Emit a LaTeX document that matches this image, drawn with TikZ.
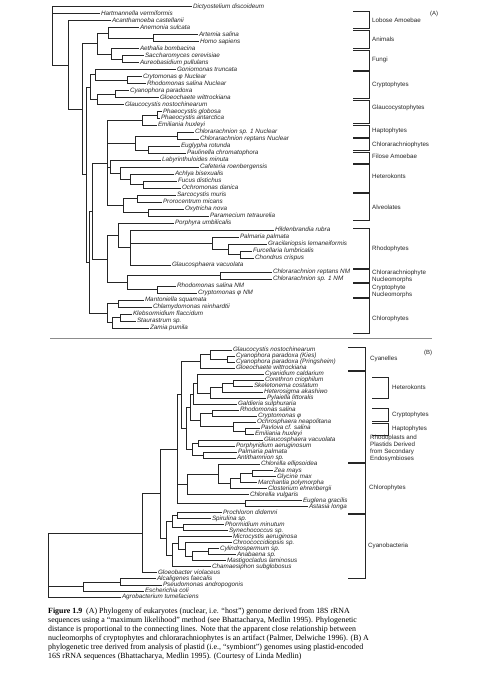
\documentclass[tikz,border=0pt]{standalone}
\usepackage{fontspec}
\setmainfont{Liberation Serif}
\newfontfamily\treefont{Liberation Sans}
\usepackage{tikz}
\definecolor{inkgray}{HTML}{262626}
\definecolor{rulegray}{HTML}{8C8C8C}
\tikzset{
  taxon/.style={font=\treefont\fontsize{6.3}{7}\selectfont\itshape,anchor=west,inner sep=0.8pt,
    text height=4.4pt,text depth=1.2pt,text=inkgray},
  branch/.style={draw=inkgray,line width=0.55pt},
  bracket/.style={draw=inkgray,line width=0.6pt},
  grouplabel/.style={font=\treefont\fontsize{6.2}{7}\selectfont,anchor=west,align=left,inner sep=0pt,text=inkgray},
  panellabel/.style={font=\treefont\fontsize{6}{7}\selectfont,inner sep=0pt,text=inkgray},
  figcaption/.style={font=\fontsize{7.9}{9}\selectfont,anchor=north west,align=left,inner sep=0pt}
}

\begin{document}
\begin{tikzpicture}[x=1pt,y=-1pt]
  \fill[white] (0,0) rectangle (479,675);
  \useasboundingbox (0,0) rectangle (479,675);

  \begin{scope}[y=-6.98pt,shift={(0pt,-6.7pt)}]
    \node[taxon] (dicty) at (192,0) {Dictyostelium discoideum};
    \node[taxon] (hartm) at (100,1) {Hartmannella vermiformis};
    \node[taxon] (acanth) at (111,2) {Acanthamoeba castellanii};
    \node[taxon] (anem) at (139,3) {Anemonia sulcata};
    \node[taxon] (artem) at (198,4) {Artemia salina};
    \node[taxon] (homo) at (199,5) {Homo sapiens};
    \node[taxon] (aethal) at (139,6) {Aethalia bombacina};
    \node[taxon] (sacch) at (144,7) {Saccharomyces cerevisiae};
    \node[taxon] (aureo) at (139,8) {Aureobasidium pullulans};
    \node[taxon] (gonio) at (176,9) {Goniomonas truncata};
    \node[taxon] (crytnuc) at (142,10) {Crytomonas φ Nuclear};
    \node[taxon] (rhodonuc) at (146,11) {Rhodomonas salina Nuclear};
    \node[taxon] (cyano) at (129,12) {Cyanophora paradoxa};
    \node[taxon] (gloeo) at (159,13) {Gloeochaete wittrockiana};
    \node[taxon] (glauco) at (124,14) {Glaucocystis nostochinearum};
    \node[taxon] (phaeog) at (162,15) {Phaeocystis globosa};
    \node[taxon] (phaeoa) at (160,16) {Phaeocystis antarctica};
    \node[taxon] (emil) at (157,17) {Emiliania huxleyi};
    \node[taxon] (chlsnuc) at (194,18) {Chlorarachnion sp. 1 Nuclear};
    \node[taxon] (chlrnuc) at (199,19) {Chlorarachnion reptans Nuclear};
    \node[taxon] (eugly) at (180,20) {Euglypha rotunda};
    \node[taxon] (pauli) at (186,21) {Paulinella chromatophora};
    \node[taxon] (laby) at (161,22) {Labyrinthuloides minuta};
    \node[taxon] (cafet) at (199,23) {Cafeteria roenbergensis};
    \node[taxon] (achly) at (174,24) {Achlya bisexualis};
    \node[taxon] (fucus) at (177,25) {Fucus distichus};
    \node[taxon] (ochro) at (181,26) {Ochromonas danica};
    \node[taxon] (sarco) at (176,27) {Sarcocystis muris};
    \node[taxon] (proro) at (162,28) {Prorocentrum micans};
    \node[taxon] (oxytr) at (184,29) {Oxytricha nova};
    \node[taxon] (param) at (209,30) {Paramecium tetraurelia};
    \node[taxon] (porph) at (174,31) {Porphyra umbilicalis};
    \node[taxon] (hilde) at (274,32) {Hildenbrandia rubra};
    \node[taxon] (palma) at (239,33) {Palmaria palmata};
    \node[taxon] (graci) at (267,34) {Gracilariopsis lemaneiformis};
    \node[taxon] (furce) at (252,35) {Furcellaria lumbricalis};
    \node[taxon] (chond) at (254,36) {Chondrus crispus};
    \node[taxon] (glsph) at (171,37) {Glaucosphaera vacuolata};
    \node[taxon] (chlrnm) at (272,38) {Chlorarachnion reptans NM};
    \node[taxon] (chlsnm) at (272,39) {Chlorarachnion sp. 1 NM};
    \node[taxon] (rhodonm) at (176,40) {Rhodomonas salina NM};
    \node[taxon] (cryptnm) at (197,41) {Cryptomonas φ NM};
    \node[taxon] (manto) at (144,42) {Mantoniella squamata};
    \node[taxon] (chlam) at (152,43) {Chlamydomonas reinhardtii};
    \node[taxon] (klebs) at (132,44) {Klebsormidium flaccidum};
    \node[taxon] (staur) at (136,45) {Staurastrum sp.};
    \node[taxon] (zamia) at (149,46) {Zamia pumila};

    \coordinate (a0) at (52,4.16);
    \coordinate (a1) at (68,8.32);
    \coordinate (a2) at (82,14.64);
    \coordinate (opis) at (97,5.25);
    \coordinate (meta) at (108,3.75);
    \coordinate (arho) at (153,4.5);
    \coordinate (fung) at (111,6.75);
    \coordinate (saau) at (122,7.5);
    \coordinate (a3) at (86,24.03);
    \coordinate (crgl) at (90,11.5);
    \coordinate (cryp) at (95,9.75);
    \coordinate (crrh) at (127,10.5);
    \coordinate (glau) at (97,13.25);
    \coordinate (cygl) at (115,12.5);
    \coordinate (a4) at (89,36.56);
    \coordinate (a5) at (92,29.25);
    \coordinate (mid) at (107,22.375);
    \coordinate (hapt) at (142,16.25);
    \coordinate (phae) at (157,15.5);
    \coordinate (cerc) at (135,19.5);
    \coordinate (chlo) at (177,18.5);
    \coordinate (filo) at (148,20.5);
    \coordinate (hete) at (110,22.94);
    \coordinate (caac) at (120,23.875);
    \coordinate (acfo) at (130,24.75);
    \coordinate (fuoc) at (143,25.5);
    \coordinate (alve) at (123,28.5);
    \coordinate (sapr) at (137,27.5);
    \coordinate (oxpa) at (148,29.5);
    \coordinate (rhnm) at (107,36.125);
    \coordinate (rhod) at (118,32.75);
    \coordinate (rhgl) at (130,34.5);
    \coordinate (flor) at (212,33.875);
    \coordinate (grfc) at (228,34.75);
    \coordinate (fuch) at (240,35.5);
    \coordinate (nucl) at (127,39.5);
    \coordinate (chnm) at (220,38.5);
    \coordinate (crnm) at (157,40.5);
    \coordinate (gree) at (107,43.875);
    \coordinate (mach) at (118,42.5);
    \coordinate (ksza) at (112,45.25);
    \coordinate (kest) at (120,44.5);

    \draw[branch] (a0) |- (dicty.west) (a0) |- (hartm.west) (a0) |- (a1);
    \draw[branch] (a1) |- (acanth.west) (a1) |- (a2);
    \draw[branch] (a2) |- (opis) (a2) |- (a3);
    \draw[branch] (opis) |- (meta) (opis) |- (fung);
    \draw[branch] (meta) |- (anem.west) (meta) |- (arho);
    \draw[branch] (arho) |- (artem.west) (arho) |- (homo.west);
    \draw[branch] (fung) |- (aethal.west) (fung) |- (saau);
    \draw[branch] (saau) |- (sacch.west) (saau) |- (aureo.west);
    \draw[branch] (a3) |- (crgl) (a3) |- (a4);
    \draw[branch] (crgl) |- (cryp) (crgl) |- (glau);
    \draw[branch] (cryp) |- (gonio.west) (cryp) |- (crrh);
    \draw[branch] (crrh) |- (crytnuc.west) (crrh) |- (rhodonuc.west);
    \draw[branch] (glau) |- (cygl) (glau) |- (glauco.west);
    \draw[branch] (cygl) |- (cyano.west) (cygl) |- (gloeo.west);
    \draw[branch] (a4) |- (a5) (a4) |- (gree);
    \draw[branch] (a5) |- (mid) (a5) |- (rhnm);
    \draw[branch] (mid) |- (hapt) (mid) |- (cerc) (mid) |- (hete) (mid) |- (alve);
    \draw[branch] (hapt) |- (phae) (hapt) |- (emil.west);
    \draw[branch] (phae) |- (phaeog.west) (phae) |- (phaeoa.west);
    \draw[branch] (cerc) |- (chlo) (cerc) |- (filo);
    \draw[branch] (chlo) |- (chlsnuc.west) (chlo) |- (chlrnuc.west);
    \draw[branch] (filo) |- (eugly.west) (filo) |- (pauli.west);
    \draw[branch] (hete) |- (laby.west) (hete) |- (caac);
    \draw[branch] (caac) |- (cafet.west) (caac) |- (acfo);
    \draw[branch] (acfo) |- (achly.west) (acfo) |- (fuoc);
    \draw[branch] (fuoc) |- (fucus.west) (fuoc) |- (ochro.west);
    \draw[branch] (alve) |- (sapr) (alve) |- (oxpa);
    \draw[branch] (sapr) |- (sarco.west) (sapr) |- (proro.west);
    \draw[branch] (oxpa) |- (oxytr.west) (oxpa) |- (param.west);
    \draw[branch] (rhnm) |- (rhod) (rhnm) |- (nucl);
    \draw[branch] (rhod) |- (porph.west) (rhod) |- (rhgl);
    \draw[branch] (rhgl) |- (hilde.west) (rhgl) |- (flor) (rhgl) |- (glsph.west);
    \draw[branch] (flor) |- (palma.west) (flor) |- (grfc);
    \draw[branch] (grfc) |- (graci.west) (grfc) |- (fuch);
    \draw[branch] (fuch) |- (furce.west) (fuch) |- (chond.west);
    \draw[branch] (nucl) |- (chnm) (nucl) |- (crnm);
    \draw[branch] (chnm) |- (chlrnm.west) (chnm) |- (chlsnm.west);
    \draw[branch] (crnm) |- (rhodonm.west) (crnm) |- (cryptnm.west);
    \draw[branch] (gree) |- (mach) (gree) |- (ksza);
    \draw[branch] (mach) |- (manto.west) (mach) |- (chlam.west);
    \draw[branch] (ksza) |- (kest) (ksza) |- (zamia.west);
    \draw[branch] (kest) |- (klebs.west) (kest) |- (staur.west);
  \end{scope}

  \draw[bracket] (353,11.7) -| (369,28.3) -- (353,28.3);
  \draw[bracket] (353,30) -| (369,48) -- (353,48);
  \draw[bracket] (353,50) -| (369,70) -- (353,70);
  \draw[bracket] (353,71.5) -| (369,98) -- (353,98);
  \draw[bracket] (353,100) -| (369,123) -- (353,123);
  \draw[bracket] (353,125) -| (369,137) -- (353,137);
  \draw[bracket] (353,138.5) -| (369,150) -- (353,150);
  \draw[bracket] (353,152) -| (369,163) -- (353,163);
  \draw[bracket] (353,164.5) -| (369,192) -- (353,192);
  \draw[bracket] (353,193.5) -| (369,220) -- (353,220);
  \draw[bracket] (353,228) -| (369,268) -- (353,268);
  \draw[bracket] (353,269.5) -| (369,282) -- (353,282);
  \draw[bracket] (353,283.5) -| (369,297) -- (353,297);
  \draw[bracket] (353,298.5) -| (369,333) -- (353,333);
  \node[grouplabel] (lobose) at (372,20) {Lobose Amoebae};
  \node[grouplabel] (animals) at (372,39) {Animals};
  \node[grouplabel] (fungi) at (372,60) {Fungi};
  \node[grouplabel] (cryptA) at (372,85) {Cryptophytes};
  \node[grouplabel] (glaucA) at (372,108) {Glaucocystophytes};
  \node[grouplabel] (haptA) at (372,131) {Haptophytes};
  \node[grouplabel] (chlorarA) at (372,145) {Chlorarachniophytes};
  \node[grouplabel] (filose) at (372,156) {Filose Amoebae};
  \node[grouplabel] (heteroA) at (372,176) {Heterokonts};
  \node[grouplabel] (alveol) at (372,207) {Alveolates};
  \node[grouplabel] (rhodoA) at (372,249) {Rhodophytes};
  \node[grouplabel] (chlnmA) at (372,276) {Chlorarachniophyte\\Nucleomorphs};
  \node[grouplabel] (crynmA) at (372,291) {Cryptophyte\\Nucleomorphs};
  \node[grouplabel] (chloroA) at (372,319) {Chlorophytes};
  \node[panellabel] (panelA) at (434,14) {(A)};

  \draw[rulegray,line width=0.8pt] (50,338) -- (432,338);

  \begin{scope}[y=-6.02pt,shift={(0pt,-350pt)}]
    \node[taxon] (bglauc) at (232,0) {Glaucocystis nostochinearum};
    \node[taxon] (bcykies) at (235,1) {Cyanophora paradoxa (Kies)};
    \node[taxon] (bcypring) at (235,2) {Cyanophora paradoxa (Pringsheim)};
    \node[taxon] (bgloeo) at (235,3) {Gloeochaete wittrockiana};
    \node[taxon] (bcyanid) at (264,4) {Cyanidium caldarium};
    \node[taxon] (bcoreth) at (264,5) {Corethron criophilum};
    \node[taxon] (bskelet) at (253,6) {Skeletonema costatum};
    \node[taxon] (bhetero) at (263,7) {Heterosigma akashiwo};
    \node[taxon] (bpylai) at (266,8) {Pylaiella littoralis};
    \node[taxon] (bgaldi) at (237,9) {Galdieria sulphuraria};
    \node[taxon] (brhodo) at (239,10) {Rhodomonas salina};
    \node[taxon] (bcrypt) at (257,11) {Cryptomonas φ};
    \node[taxon] (bochro) at (256,12) {Ochrosphaera neapolitana};
    \node[taxon] (bpavlo) at (260,13) {Pavlova cf. salina};
    \node[taxon] (bemil) at (254,14) {Emiliania huxleyi};
    \node[taxon] (bglsph) at (263,15) {Glaucosphaera vacuolata};
    \node[taxon] (bporph) at (235,16) {Porphyridium aeruginosum};
    \node[taxon] (bpalma) at (237,17) {Palmaria palmata};
    \node[taxon] (banti) at (236,18) {Antithamnion sp.};
    \node[taxon] (bchell) at (260,19) {Chlorella ellipsoidea};
    \node[taxon] (bzea) at (273,20) {Zea mays};
    \node[taxon] (bglyc) at (276,21) {Glycine max};
    \node[taxon] (bmarch) at (257,22) {Marchantia polymorpha};
    \node[taxon] (bclost) at (267,23) {Closterium ehrenbergii};
    \node[taxon] (bchvul) at (249,24) {Chlorella vulgaris};
    \node[taxon] (beugl) at (302,25) {Euglena gracilis};
    \node[taxon] (bastas) at (308,26) {Astasia longa};
    \node[taxon] (bproch) at (222,27) {Prochloron didemni};
    \node[taxon] (bspiru) at (211,28) {Spirulina sp.};
    \node[taxon] (bphorm) at (224,29) {Phormidium minutum};
    \node[taxon] (bsynec) at (228,30) {Synechococcus sp.};
    \node[taxon] (bmicro) at (232,31) {Microcystis aeruginosa};
    \node[taxon] (bchroo) at (232,32) {Chroococcidiopsis sp.};
    \node[taxon] (bcylin) at (219,33) {Cylindrospermum sp.};
    \node[taxon] (banaba) at (236,34) {Anabaena sp.};
    \node[taxon] (bmasti) at (226,35) {Mastigocladus laminosus};
    \node[taxon] (bchama) at (211,36) {Chamaesiphon subglobosus};
    \node[taxon] (bgloeob) at (157,37) {Gloeobacter violaceus};
    \node[taxon] (balcal) at (156,38) {Alcaligenes faecalis};
    \node[taxon] (bpseud) at (162,39) {Pseudomonas andropogonis};
    \node[taxon] (bescher) at (144,40) {Escherichia coli};
    \node[taxon] (bagro) at (121,41) {Agrobacterium tumefaciens};

    \coordinate (b0) at (48,35.72);
    \coordinate (cyplas) at (142,30.44);
    \coordinate (bmain) at (160,23.87);
    \coordinate (plas) at (177,16.47);
    \coordinate (redgl) at (181,7.43);
    \coordinate (bglau) at (200,1.875);
    \coordinate (bgc) at (210,0.75);
    \coordinate (bck) at (227,1.5);
    \coordinate (redall) at (186,12.98);
    \coordinate (redsec) at (190,9.45);
    \coordinate (redh) at (193,7.28);
    \coordinate (cyhe) at (197,5.5625);
    \coordinate (bhet) at (210,7.125);
    \coordinate (bhs) at (222,6.25);
    \coordinate (bcs) at (233,5.5);
    \coordinate (crha) at (200,11.625);
    \coordinate (bcr) at (212,10.5);
    \coordinate (bha) at (233,12.75);
    \coordinate (bpe) at (245,13.5);
    \coordinate (rpgl) at (192,16.5);
    \coordinate (bgp) at (198,15.5);
    \coordinate (bpa) at (203,17.5);
    \coordinate (bgrn) at (187,22.28);
    \coordinate (bce) at (218,20.5625);
    \coordinate (bzgmc) at (230,22.125);
    \coordinate (bzgm) at (240,21.25);
    \coordinate (bzg) at (252,20.5);
    \coordinate (bea) at (245,25.5);
    \coordinate (cyanob) at (166,31.27);
    \coordinate (cyone) at (172,28.5);
    \coordinate (bps) at (177,27.5);
    \coordinate (bpsy) at (183,29.5);
    \coordinate (cytwo) at (172,34.03);
    \coordinate (bmc) at (178,32.06);
    \coordinate (bccam) at (185,33.125);
    \coordinate (bcam) at (192,34.25);
    \coordinate (bca) at (208,33.5);
    \coordinate (bape) at (83,39.25);
    \coordinate (bap) at (120,38.5);

    \draw[branch] (b0) |- (cyplas) (b0) |- (bape) (b0) |- (bagro.west);
    \draw[branch] (cyplas) |- (bmain) (cyplas) |- (bgloeob.west);
    \draw[branch] (bmain) |- (plas) (bmain) |- (cyanob);
    \draw[branch] (plas) |- (redgl) (plas) |- (bgrn) (plas) |- (bea);
    \draw[branch] (redgl) |- (bglau) (redgl) |- (redall);
    \draw[branch] (bglau) |- (bgc) (bglau) |- (bgloeo.west);
    \draw[branch] (bgc) |- (bglauc.west) (bgc) |- (bck);
    \draw[branch] (bck) |- (bcykies.west) (bck) |- (bcypring.west);
    \draw[branch] (redall) |- (redsec) (redall) |- (rpgl);
    \draw[branch] (redsec) |- (redh) (redsec) |- (crha);
    \draw[branch] (redh) |- (cyhe) (redh) |- (bgaldi.west);
    \draw[branch] (cyhe) |- (bcyanid.west) (cyhe) |- (bhet);
    \draw[branch] (bhet) |- (bhs) (bhet) |- (bpylai.west);
    \draw[branch] (bhs) |- (bcs) (bhs) |- (bhetero.west);
    \draw[branch] (bcs) |- (bcoreth.west) (bcs) |- (bskelet.west);
    \draw[branch] (crha) |- (bcr) (crha) |- (bha);
    \draw[branch] (bcr) |- (brhodo.west) (bcr) |- (bcrypt.west);
    \draw[branch] (bha) |- (bochro.west) (bha) |- (bpe);
    \draw[branch] (bpe) |- (bpavlo.west) (bpe) |- (bemil.west);
    \draw[branch] (rpgl) |- (bgp) (rpgl) |- (bpa);
    \draw[branch] (bgp) |- (bglsph.west) (bgp) |- (bporph.west);
    \draw[branch] (bpa) |- (bpalma.west) (bpa) |- (banti.west);
    \draw[branch] (bgrn) |- (bce) (bgrn) |- (bchvul.west);
    \draw[branch] (bce) |- (bchell.west) (bce) |- (bzgmc);
    \draw[branch] (bzgmc) |- (bzgm) (bzgmc) |- (bclost.west);
    \draw[branch] (bzgm) |- (bzg) (bzgm) |- (bmarch.west);
    \draw[branch] (bzg) |- (bzea.west) (bzg) |- (bglyc.west);
    \draw[branch] (bea) |- (beugl.west) (bea) |- (bastas.west);
    \draw[branch] (cyanob) |- (cyone) (cyanob) |- (cytwo);
    \draw[branch] (cyone) |- (bps) (cyone) |- (bpsy);
    \draw[branch] (bps) |- (bproch.west) (bps) |- (bspiru.west);
    \draw[branch] (bpsy) |- (bphorm.west) (bpsy) |- (bsynec.west);
    \draw[branch] (cytwo) |- (bmc) (cytwo) |- (bchama.west);
    \draw[branch] (bmc) |- (bmicro.west) (bmc) |- (bccam);
    \draw[branch] (bccam) |- (bchroo.west) (bccam) |- (bcam);
    \draw[branch] (bcam) |- (bca) (bcam) |- (bmasti.west);
    \draw[branch] (bca) |- (bcylin.west) (bca) |- (banaba.west);
    \draw[branch] (bape) |- (bap) (bape) |- (bescher.west);
    \draw[branch] (bap) |- (balcal.west) (bap) |- (bpseud.west);
  \end{scope}

  \draw[bracket] (348,347) -| (365,370) -- (348,370);
  \draw[bracket] (348,371.5) -| (365,462) -- (348,462);
  \draw[bracket] (348,463.5) -| (365,513) -- (348,513);
  \draw[bracket] (348,514.5) -| (365,578) -- (348,578);
  \draw[bracket] (372,377) -| (388,398) -- (372,398);
  \draw[bracket] (372,408) -| (388,421) -- (372,421);
  \draw[bracket] (372,423) -| (388,435) -- (372,435);
  \node[grouplabel] (cyanel) at (370,359) {Cyanelles};
  \node[grouplabel] (heteroB) at (392,387) {Heterokonts};
  \node[grouplabel] (cryptB) at (392,415) {Cryptophytes};
  \node[grouplabel] (haptB) at (392,429) {Haptophytes};
  \node[grouplabel] (secondary) at (370,448) {Rhodoplasts and\\Plastids Derived\\from Secondary\\Endosymbioses};
  \node[grouplabel] (chloroB) at (369,488) {Chlorophytes};
  \node[grouplabel] (cyanoB) at (368,546) {Cyanobacteria};
  \node[panellabel] (panelB) at (428,353) {(B)};

  \node[figcaption] (caption) at (48,608) {\textbf{Figure 1.9}\enspace(A) Phylogeny of eukaryotes (nuclear, i.e. “host”) genome derived from 18S rRNA\\
    sequences using a “maximum likelihood” method (see Bhattacharya, Medlin 1995). Phylogenetic\\
    distance is proportional to the connecting lines. Note that the apparent close relationship between\\
    nucleomorphs of cryptophytes and chlorarachniophytes is an artifact (Palmer, Delwiche 1996). (B) A\\
    phylogenetic tree derived from analysis of plastid (i.e., “symbiont”) genomes using plastid-encoded\\
    16S rRNA sequences (Bhattacharya, Medlin 1995). (Courtesy of Linda Medlin)};
\end{tikzpicture}
\end{document}
